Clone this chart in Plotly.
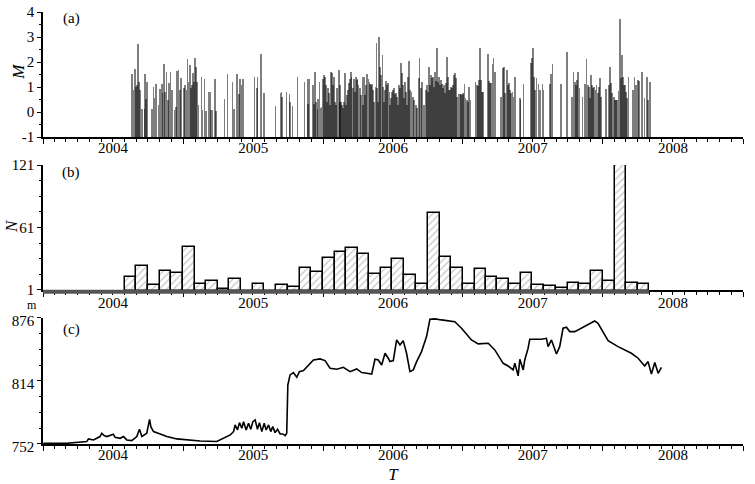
import pandas as pd
import plotly.graph_objects as go
from datetime import datetime

# (a) earthquake events: decimal year and magnitude
EVENT_YEAR = [
    2004.634, 2004.646, 2004.658, 2004.665, 2004.672, 2004.679, 2004.686, 2004.693, 2004.705, 2004.724,
    2004.729, 2004.736, 2004.743, 2004.776, 2004.788, 2004.796, 2004.807, 2004.824, 2004.834, 2004.846,
    2004.853, 2004.862, 2004.869, 2004.881, 2004.891, 2004.900, 2004.910, 2004.919, 2004.938, 2004.948,
    2004.957, 2004.967, 2004.976, 2004.986, 2005.005, 2005.015, 2005.024, 2005.031, 2005.038, 2005.048,
    2005.053, 2005.062, 2005.069, 2005.079, 2005.086, 2005.093, 2005.100, 2005.110, 2005.131, 2005.138,
    2005.153, 2005.162, 2005.181, 2005.191, 2005.200, 2005.210, 2005.226, 2005.234, 2005.296, 2005.317,
    2005.353,
    2005.362, 2005.383, 2005.398, 2005.407, 2005.417, 2005.426, 2005.510, 2005.529, 2005.531, 2005.555,
    2005.576, 2005.660, 2005.695, 2005.702, 2005.707, 2005.738, 2005.760, 2005.764, 2005.781, 2005.817,
    2005.867, 2005.890, 2005.893, 2005.902, 2005.926, 2005.933, 2005.940, 2005.950, 2005.960, 2005.964,
    2005.974, 2005.981, 2005.988, 2005.998, 2006.005, 2006.012, 2006.019, 2006.026, 2006.033, 2006.040,
    2006.050, 2006.055, 2006.062, 2006.069, 2006.076, 2006.083, 2006.093, 2006.100, 2006.112, 2006.119,
    2006.121, 2006.128, 2006.135, 2006.143, 2006.150, 2006.157, 2006.164, 2006.171, 2006.178, 2006.185,
    2006.193, 2006.200, 2006.204, 2006.212, 2006.219, 2006.226, 2006.233, 2006.240, 2006.247, 2006.254,
    2006.262, 2006.269, 2006.281, 2006.288, 2006.295, 2006.302, 2006.309, 2006.316, 2006.324, 2006.331,
    2006.338, 2006.345, 2006.352, 2006.359, 2006.366, 2006.374, 2006.381, 2006.388, 2006.395, 2006.402,
    2006.409, 2006.416, 2006.424, 2006.431, 2006.438, 2006.445, 2006.452, 2006.459, 2006.466, 2006.474,
    2006.481, 2006.488, 2006.495, 2006.502, 2006.509, 2006.516, 2006.524, 2006.531, 2006.538, 2006.545,
    2006.552, 2006.559, 2006.566, 2006.574, 2006.581, 2006.588, 2006.595, 2006.602, 2006.609, 2006.616,
    2006.624, 2006.633, 2006.643, 2006.652, 2006.662, 2006.671, 2006.685, 2006.690, 2006.700, 2006.709,
    2006.724, 2006.738, 2006.745, 2006.752, 2006.759, 2006.766, 2006.774, 2006.781, 2006.788, 2006.795,
    2006.802, 2006.809, 2006.816, 2006.824, 2006.831, 2006.838, 2006.845, 2006.852, 2006.859, 2006.866,
    2006.874, 2006.881,
    2006.886, 2006.893, 2006.900, 2006.908, 2006.915, 2006.922, 2006.929, 2006.936, 2006.943, 2006.950,
    2006.958, 2006.969, 2006.977, 2006.984, 2006.991, 2006.998, 2007.005, 2007.012, 2007.019, 2007.027,
    2007.036, 2007.046, 2007.055, 2007.089, 2007.100, 2007.110, 2007.117, 2007.122, 2007.129, 2007.136,
    2007.143, 2007.177, 2007.189, 2007.196, 2007.203, 2007.212, 2007.219, 2007.229, 2007.274, 2007.286,
    2007.296, 2007.303, 2007.315, 2007.324, 2007.331, 2007.339, 2007.346, 2007.355, 2007.362, 2007.372,
    2007.408, 2007.412, 2007.434, 2007.489, 2007.496, 2007.503, 2007.510, 2007.517, 2007.527, 2007.541,
    2007.553, 2007.569, 2007.577, 2007.622, 2007.629, 2007.641,
    2007.700, 2007.745, 2007.781, 2007.791, 2007.800, 2007.807, 2007.814, 2007.824, 2007.833, 2007.855,
    2007.874, 2007.883, 2007.893, 2007.903, 2007.910, 2007.917, 2007.924, 2007.931, 2007.938, 2007.948,
    2007.955, 2007.964, 2007.972, 2007.979, 2007.988, 2008.024, 2008.043, 2008.053, 2008.060, 2008.067,
    2008.079, 2008.088, 2008.095, 2008.103, 2008.112, 2008.122, 2008.129, 2008.136, 2008.143, 2008.150,
    2008.157, 2008.164, 2008.172, 2008.183, 2008.214, 2008.226, 2008.238, 2008.250, 2008.257, 2008.281,
    2008.298, 2008.314, 2008.322, 2008.338,
]
EVENT_M = [
    1.51, 0.88, 1.72, 1.01, 1.08, 2.71, 1.21, 0.88, 0.12, 0.11,
    1.51, 0.51, 1.21, 0.11, 1.01, 0.55, 1.11, 0.28, 0.92, 1.11,
    0.75, 1.91, 0.81, 1.61, 0.48, 1.15, 1.61, 0.88, 0.08, 0.21,
    1.65, 1.68, 0.88, 1.35, 0.95, 1.08, 0.88, 2.11, 1.21, 1.88,
    0.95, 1.08, 1.55, 1.21, 2.15, 1.81, 1.21, 0.28, 1.41, 0.08,
    1.32, 0.04, 0.81, 0.79, 0.08, 0.09, 1.32, 0.04, 0.51, 1.51,
    1.21,
    0.12, 1.51, 0.71, 1.32, 1.08, 1.32, 1.41, 0.97, 1.41, 2.31,
    0.75, 0.24, 0.75, 0.81, 0.61, 0.81, 0.71, 0.41, 0.24, 1.41,
    1.21, 1.32, 0.31, 1.32, 1.08, 0.31, 1.61, 0.41, 0.12, 0.51,
    1.21, 0.15, 0.21, 1.32, 1.48, 1.41, 1.08, 0.41, 0.97, 0.75,
    0.28, 1.61, 1.55, 1.08, 1.41, 0.41, 0.28, 0.95, 1.68, 0.41,
    1.08, 0.41, 0.28, 0.15, 0.41, 1.55, 0.28, 0.68, 0.88, 1.15,
    1.32, 1.61, 1.41, 0.95, 1.32, 0.81, 1.41, 1.28, 1.32, 1.08,
    0.95, 0.68, 1.41, 0.28, 1.41, 0.68, 1.08, 1.51, 1.32, 1.21,
    1.11, 1.08, 1.11, 0.88, 0.41, 1.01, 2.75, 0.97, 0.41, 3.01,
    1.81, 1.48, 2.28, 1.01, 0.41, 0.88, 1.24, 1.08, 1.15, 0.81,
    0.28, 0.55, 0.79, 0.88, 0.95, 0.71, 0.75, 0.61, 0.28, 1.08,
    0.95, 1.95, 1.55, 1.08, 0.55, 1.21, 0.81, 0.28, 1.41, 2.04,
    0.88, 0.79, 0.61, 0.48, 0.28, 0.15, 1.35, 2.15, 0.95, 1.21,
    0.28, 0.88, 1.08, 0.81, 1.81, 1.08, 1.48, 1.35, 1.41, 1.01,
    1.61, 1.24, 2.57, 1.21, 1.41, 1.08, 1.28, 1.11, 0.95, 1.08,
    0.75, 1.15,
    2.21, 1.41, 0.88, 0.88, 1.01, 0.95, 1.08, 1.48, 1.55, 1.35,
    0.61, 0.71, 0.71, 0.71, 0.68, 0.75, 0.71, 1.11, 0.55, 0.48,
    0.41, 1.01, 0.48, 1.21, 1.08, 1.04, 1.28, 2.55, 1.28, 0.81,
    0.79, 2.32, 1.24, 1.15, 1.15, 1.91, 2.15, 1.61, 0.61, 1.75,
    1.81, 0.75, 1.68, 1.08, 1.15, 0.88, 0.75, 0.81, 0.61, 1.41,
    0.55, 0.48, 1.11, 1.95, 2.15, 2.55, 1.41, 0.88, 1.35, 1.11,
    0.88, 1.11, 0.88, 1.11, 1.51, 1.91,
    1.11, 2.41, 0.61, 1.61, 1.21, 1.08, 1.28, 1.59, 0.95, 0.61,
    1.11, 2.11, 1.08, 1.01, 0.55, 1.48, 1.08, 0.97, 1.01, 0.88,
    1.08, 0.75, 1.01, 1.37, 0.61, 0.92, 1.08, 1.81, 1.15, 0.75,
    0.61, 0.48, 0.48, 0.48, 0.84, 3.72, 1.37, 2.28, 1.41, 1.08,
    1.08, 0.81, 0.55, 1.41, 0.88, 1.41, 1.08, 1.28, 1.24, 1.61,
    0.55, 1.41, 0.48, 1.21,
]

# (b) monthly event counts, starting August 2004
N_START = "2004-08-01"
N_COUNT = [13, 24, 6, 19, 17, 42, 7, 10, 2, 12, 0, 7, 0, 6, 4, 22, 18, 32, 37, 41, 36, 16,
           22, 31, 15, 7, 75, 33, 22, 7, 21, 13, 12, 7, 17, 6, 5, 3, 8, 7, 19, 10, 121, 8, 7]

# (c) reservoir water level (m)
LEVEL_YEAR = [
    2004.002, 2004.169, 2004.312, 2004.324, 2004.360, 2004.407, 2004.419, 2004.436, 2004.455, 2004.479,
    2004.502, 2004.514, 2004.550, 2004.574, 2004.598, 2004.633, 2004.669, 2004.688, 2004.705, 2004.740,
    2004.760, 2004.769, 2004.788, 2004.836, 2004.883, 2004.955, 2005.026, 2005.121, 2005.240, 2005.264,
    2005.288, 2005.312, 2005.336, 2005.360, 2005.371, 2005.388, 2005.402, 2005.419, 2005.431, 2005.450,
    2005.467, 2005.483, 2005.498, 2005.514, 2005.531, 2005.545, 2005.562, 2005.579, 2005.593, 2005.610,
    2005.626, 2005.640, 2005.657, 2005.674, 2005.693, 2005.712, 2005.729, 2005.740, 2005.748, 2005.764,
    2005.788, 2005.812, 2005.831, 2005.860, 2005.895, 2005.931, 2005.979, 2006.014, 2006.050, 2006.098,
    2006.145, 2006.193, 2006.240, 2006.276, 2006.312, 2006.348, 2006.371, 2006.395, 2006.419, 2006.443,
    2006.466, 2006.478, 2006.502, 2006.526, 2006.550, 2006.573, 2006.597, 2006.621, 2006.645, 2006.669,
    2006.704, 2006.728, 2006.740, 2006.764, 2006.800, 2006.847, 2006.942, 2006.990, 2007.061, 2007.109,
    2007.181, 2007.228, 2007.288, 2007.323, 2007.359, 2007.371, 2007.395, 2007.407, 2007.431, 2007.442,
    2007.466, 2007.478, 2007.514, 2007.561, 2007.597, 2007.609, 2007.633, 2007.669, 2007.692, 2007.716,
    2007.740, 2007.764, 2007.800, 2007.847, 2007.895, 2007.942, 2007.966, 2008.014, 2008.038, 2008.109,
    2008.204, 2008.252, 2008.299, 2008.323, 2008.347, 2008.371, 2008.395, 2008.418,
]
LEVEL_M = [
    752.7, 752.7, 754.4, 757.0, 756.0, 759.3, 762.6, 760.3, 759.3, 760.3,
    761.6, 758.6, 757.6, 759.3, 756.0, 755.3, 759.3, 766.5, 759.3, 762.6,
    776.3, 769.1, 764.2, 761.9, 759.3, 757.0, 756.0, 755.0, 754.4, 756.0,
    757.0, 759.3, 760.9, 764.2, 770.8, 765.8, 773.0, 767.5, 774.0, 765.8,
    772.4, 766.5, 774.0, 775.7, 766.5, 773.0, 764.2, 772.4, 765.8, 770.8,
    764.2, 769.1, 763.2, 766.5, 761.9, 761.9, 760.3, 762.6, 810.1, 820.0,
    822.3, 817.7, 823.2, 824.2, 829.8, 834.7, 835.7, 834.1, 826.5, 825.5,
    827.5, 823.2, 825.9, 822.3, 821.6, 820.9, 835.4, 834.7, 829.8, 841.3,
    836.4, 833.1, 834.1, 854.4, 849.5, 853.7, 841.3, 823.2, 824.9, 833.1,
    842.9, 854.4, 857.7, 874.7, 875.1, 874.1, 872.4, 865.9, 854.4, 850.5,
    851.1, 844.6, 831.4, 828.8, 824.9, 831.4, 819.0, 835.4, 824.9, 834.7,
    846.2, 855.1, 855.1, 855.1, 856.0, 847.8, 854.4, 840.6, 847.8, 865.9,
    866.9, 862.6, 862.6, 865.9, 869.2, 873.1, 870.8, 859.3, 853.7, 847.8,
    841.3, 836.4, 828.8, 833.1, 820.9, 832.1, 821.6, 827.5,
]

YEARS_RANGE = ["2004-01-01", "2009-01-01"]
FONT = "Liberation Serif, Times New Roman, serif"
DAY_MS = 86400000
PLOT_H = 432  # px height of the plotting area


def to_date(y):
    yr = int(y)
    a, b = datetime(yr, 1, 1), datetime(yr + 1, 1, 1)
    return a + (b - a) * (y - yr)


ev_dates = [to_date(y) for y in EVENT_YEAR]
lvl_dates = [to_date(y) for y in LEVEL_YEAR]
month_start = pd.date_range(N_START, periods=len(N_COUNT) + 1, freq="MS")
month_len = [(month_start[i + 1] - month_start[i]) for i in range(len(N_COUNT))]
month_mid = [month_start[i] + month_len[i] / 2 for i in range(len(N_COUNT))]
month_w = [ml.total_seconds() * 1000 for ml in month_len]

fig = go.Figure()

# stems from -1 up to M; overlapping stems darken to black
fig.add_trace(go.Bar(
    x=ev_dates, y=[m + 1 for m in EVENT_M], base=-1,
    width=4.5 * DAY_MS,
    marker=dict(color="rgba(0,0,0,0.5)", line=dict(width=0)),
    xaxis="x", yaxis="y", showlegend=False, hoverinfo="skip",
))

fig.add_trace(go.Bar(
    x=month_mid, y=N_COUNT, width=month_w,
    marker=dict(color="white", line=dict(color="black", width=1.5),
                pattern=dict(shape="/", fgcolor="#8c8c8c", bgcolor="white", size=5, solidity=0.25)),
    xaxis="x2", yaxis="y2", showlegend=False,
))

fig.add_trace(go.Scatter(
    x=lvl_dates, y=LEVEL_M, mode="lines",
    line=dict(color="black", width=1.6),
    xaxis="x3", yaxis="y3", showlegend=False,
))

# empty holders so the label-only axes get drawn
for xa, ya in (("x4", "y"), ("x5", "y2"), ("x6", "y3")):
    fig.add_trace(go.Scatter(x=[], y=[], mode="lines", xaxis=xa, yaxis=ya,
                             showlegend=False, hoverinfo="skip"))

tick_font = dict(family=FONT, size=15, color="black")
title_font = dict(family=FONT, size=17, color="black")
x_common = dict(
    type="date", range=YEARS_RANGE, tick0="2004-01-01", dtick="M12", automargin=False,
    ticks="outside", ticklen=5, tickwidth=1.2, tickcolor="black", showticklabels=False,
    showline=True, linecolor="black", linewidth=1.5, showgrid=False, zeroline=False,
    minor=dict(dtick="M1", tick0="2004-01-01", ticks="outside", ticklen=3,
               tickwidth=1, tickcolor="black", showgrid=False),
)
# year labels centred in each year, on label-only axes
x_labels = dict(
    type="date", range=YEARS_RANGE, tick0="2004-01-01", dtick="M12", automargin=False,
    tickformat="%Y", ticklabelmode="period", ticks="", showline=False,
    showgrid=False, zeroline=False, tickfont=tick_font, anchor="free",
)
y_common = dict(
    ticks="outside", ticklen=4, tickwidth=1.2, tickcolor="black", automargin=False,
    showline=True, linecolor="black", linewidth=1.5,
    showgrid=False, zeroline=False, tickfont=tick_font,
)

DOM_A, DOM_B, DOM_C = [0.7106, 1], [0.3565, 0.6458], [0, 0.2917]


def side_text(text, x, y, **kw):
    return dict(text=text, xref="paper", yref="paper", x=x, y=y, showarrow=False,
                xanchor="center", yanchor="middle", **kw)


fig.update_layout(
    width=755, height=484,
    margin=dict(l=43, r=12, t=12, b=40),
    paper_bgcolor="white", plot_bgcolor="white",
    barmode="overlay", bargap=0,
    font=dict(family=FONT, size=15, color="black"),
    xaxis=dict(x_common, anchor="y", domain=[0, 1]),
    xaxis2=dict(x_common, anchor="y2", domain=[0, 1]),
    xaxis3=dict(x_common, anchor="y3", domain=[0, 1]),
    xaxis4=dict(x_labels, overlaying="x", position=DOM_A[0]),
    xaxis5=dict(x_labels, overlaying="x2", position=DOM_B[0] - 2 / PLOT_H),
    xaxis6=dict(x_labels, overlaying="x3", position=DOM_C[0],
                title=dict(text="<i>T</i>", standoff=6, font=title_font)),
    yaxis=dict(y_common, anchor="x", domain=DOM_A, range=[-1, 4],
               tickvals=[-1, 0, 1, 2, 3, 4], ticktext=["-1", "0", "1", "2", "3", "4"],
               minor=dict(tickvals=[-0.5, 0.5, 1.5, 2.5, 3.5], ticks="outside", ticklen=2, tickcolor="black")),
    yaxis2=dict(y_common, anchor="x2", domain=DOM_B, range=[1, 121],
                tickvals=[1, 61, 121],
                minor=dict(tick0=1, dtick=15, ticks="outside", ticklen=2, tickcolor="black")),
    yaxis3=dict(y_common, anchor="x3", domain=DOM_C, range=[752, 876],
                tickvals=[752, 814, 876], ticklabelshift=3,
                minor=dict(tick0=752, dtick=15.5, ticks="outside", ticklen=2, tickcolor="black")),
    shapes=[dict(type="line", xref="x2", yref="paper", x0="2004-01-01", x1=to_date(2008.33),
                 y0=0.3525, y1=0.3525, line=dict(color="#555555", width=4))],
    annotations=[
        side_text("(a)", 0.04, 0.985, font=tick_font),
        side_text("(b)", 0.04, 0.628, font=tick_font),
        side_text("(c)", 0.04, 0.264, font=tick_font),
        side_text("m", -0.016, 0.3218, font=dict(family=FONT, size=12, color="black")),
        side_text("<i>M</i>", -0.036, 0.861, textangle=-90, font=title_font),
        side_text("<i>N</i>", -0.044, 0.505, textangle=-90, font=title_font),
    ],
)

# drop the default page margin so the figure sits at the window's corner
fig.write_html("out.html", config={"displayModeBar": False},
               post_script="document.body.style.margin='0px';")
